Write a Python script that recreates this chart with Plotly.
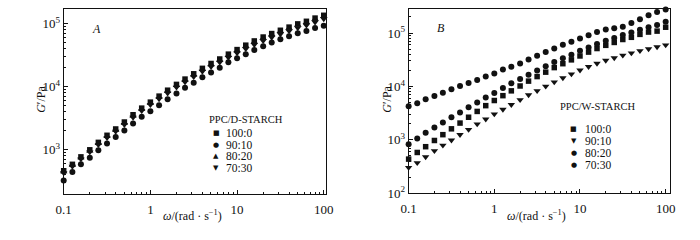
import plotly.graph_objects as go

# frequency grid (rad/s)
omega = [0.1, 0.126, 0.158, 0.2, 0.251, 0.316, 0.398, 0.501, 0.631, 0.794,
         1, 1.26, 1.58, 2, 2.51, 3.16, 3.98, 5.01, 6.31, 7.94,
         10, 12.6, 15.8, 20, 25.1, 31.6, 39.8, 50.1, 63.1, 79.4, 100]

# Panel A: PPC/D-STARCH  (G' in Pa)
a_100_0 = [466, 589, 773, 1000, 1312, 1698, 2138, 2754, 3589, 4571, 5689, 7079, 8790, 10860,
           13180, 15990, 19500, 23280, 27420, 32730, 38640, 45390, 52970, 61090, 69340, 78160,
           87700, 98620, 108400, 121900, 134900]
a_90_10 = [327, 447, 590, 747, 980, 1260, 1590, 2020, 2620, 3350, 4090, 5060, 6310, 7800, 9640,
           11500, 14060, 16770, 20000, 24400, 28100, 32700, 38000, 43800, 50100, 56300, 63000,
           70300, 76200, 84700, 92000]
a_80_20 = [450, 570, 750, 960, 1260, 1630, 2050, 2650, 3450, 4400, 5480, 6800, 8450, 10450,
           12700, 15400, 18800, 22400, 26400, 31500, 37200, 43700, 51000, 58800, 66800, 75300,
           84500, 95000, 104500, 117500, 130000]
a_70_30 = [430, 545, 715, 920, 1200, 1550, 1950, 2500, 3250, 4150, 5150, 6400, 7900, 9750,
           11800, 14300, 17400, 20700, 24300, 28900, 34000, 39800, 46300, 53200, 60300, 67800,
           76000, 85000, 93500, 105000, 118000]

# Panel B: PPC/W-STARCH  (G' in Pa)
b_100_0 = [437, 582, 746, 975, 1253, 1611, 2065, 2655, 3412, 4375, 5458, 6730, 8279, 10210,
           12590, 15310, 18530, 22540, 26670, 31480, 37240, 43950, 51290, 58880, 66680, 75680,
           83180, 94410, 104200, 108600, 128500]
b_90_10 = [303, 373, 480, 624, 793, 989, 1253, 1563, 1982, 2443, 3048, 3707, 4560, 5623, 6934,
           8279, 10090, 12080, 14420, 17060, 20140, 23500, 26980, 30620, 34200, 38280, 42170,
           46450, 50470, 54830, 59570]
b_80_20 = [826, 1059, 1361, 1698, 2118, 2655, 3266, 4074, 5023, 6194, 7534, 9397, 11430, 13830,
           16630, 19910, 23820, 28640, 33810, 39260, 46450, 53460, 62090, 71610, 81100, 92050,
           102500, 114800, 128500, 141300, 162200]
b_70_30 = [4260, 4875, 5770, 6640, 7620, 8890, 10210, 11560, 13270, 15310, 17580, 20750, 23500,
           26980, 31920, 37670, 43950, 51290, 60670, 68710, 78890, 90570, 104200, 116400, 123000,
           131800, 153800, 181600, 214800, 246600, 275400]

labels = ["100:0", "90:10", "80:20", "70:30"]
x_ticks = [0.1, 1, 10, 100]
x_ticktext = ["0.1", "1", "10", "100"]
ya_ticks = [1e3, 1e4, 1e5]
ya_ticktext = ["10<sup>3</sup>", "10<sup>4</sup>", "10<sup>5</sup>"]
yb_ticks = [1e2, 1e3, 1e4, 1e5]
yb_ticktext = ["10<sup>2</sup>", "10<sup>3</sup>", "10<sup>4</sup>", "10<sup>5</sup>"]

FONT = "Liberation Serif"
BLACK = "#111111"

def minor_vals(lo, hi):
    vals = []
    for d in range(lo, hi + 1):
        for m in range(2, 10):
            vals.append(m * 10 ** d)
    return vals

fig = go.Figure()

series_a = [(a_100_0, "square", 5.5), (a_90_10, "circle", 6),
            (a_80_20, "triangle-up", 6.5), (a_70_30, "triangle-down", 6.5)]
series_b = [(b_100_0, "square", 5.5), (b_90_10, "triangle-down", 6.5),
            (b_80_20, "circle", 6), (b_70_30, "circle", 6)]

for (vals, sym, sz), lab in zip(series_a, labels):
    fig.add_trace(go.Scatter(x=omega, y=vals, mode="markers", name=lab, showlegend=False,
                             marker=dict(symbol=sym, size=sz, color=BLACK), cliponaxis=False,
                             xaxis="x", yaxis="y"))
for (vals, sym, sz), lab in zip(series_b, labels):
    fig.add_trace(go.Scatter(x=omega, y=vals, mode="markers", name=lab, showlegend=False,
                             marker=dict(symbol=sym, size=sz, color=BLACK), cliponaxis=False,
                             xaxis="x2", yaxis="y2"))

axis_common = dict(type="log", showgrid=False, zeroline=False, showline=True, linecolor=BLACK,
                   linewidth=1, mirror=True, ticks="inside", ticklen=4, tickcolor=BLACK,
                   tickfont=dict(family=FONT, size=13, color=BLACK))

fig.update_layout(
    width=700, height=240, margin=dict(l=0, r=0, t=0, b=0),
    paper_bgcolor="white", plot_bgcolor="white",
    font=dict(family=FONT, size=12, color=BLACK),
    xaxis=dict(axis_common, domain=[57 / 700, 325 / 700], range=[-1, 2.021], anchor="y",
               tickvals=x_ticks, ticktext=x_ticktext, ticklabelstandoff=3,
               minor=dict(tickvals=minor_vals(-1, 1), ticks="inside", ticklen=2, tickcolor=BLACK)),
    yaxis=dict(axis_common, domain=[1 - 200.7 / 240, 1 - 9.3 / 240], range=[2.30, 5.23], anchor="x",
               tickvals=ya_ticks, ticktext=ya_ticktext,
               minor=dict(tickvals=minor_vals(2, 5), ticks="inside", ticklen=2, tickcolor=BLACK)),
    xaxis2=dict(axis_common, domain=[410 / 700, 677 / 700], range=[-1, 2.045], anchor="y2",
                tickvals=x_ticks, ticktext=x_ticktext, ticklabelstandoff=3,
                minor=dict(tickvals=minor_vals(-1, 2), ticks="inside", ticklen=2, tickcolor=BLACK)),
    yaxis2=dict(axis_common, domain=[1 - 200 / 240, 1 - 9.3 / 240], range=[2.0, 5.45], anchor="x2",
                tickvals=yb_ticks, ticktext=yb_ticktext,
                minor=dict(tickvals=minor_vals(2, 5), ticks="inside", ticklen=2, tickcolor=BLACK)),
)

ann = []
def text(x, y, s, size=12, xanchor="center", angle=0, family=FONT):
    ann.append(dict(x=x / 700, y=1 - y / 240, xref="paper", yref="paper", text=s, showarrow=False,
                    xanchor=xanchor, yanchor="middle", textangle=angle,
                    font=dict(family=family, size=size, color=BLACK)))

# panel letters
text(91, 30, "<i>A</i>", 12)
text(443, 29, "<i>B</i>", 12)
# axis titles
text(33, 103, "<i>G</i>′/Pa", 12, angle=-90)
text(387, 103, "<i>G</i>′/Pa", 12, angle=-90)
text(189, 223, "<i>ω</i>/(rad · s<sup>−1</sup>)", 12)
text(541, 223, "<i>ω</i>/(rad · s<sup>−1</sup>)", 12)

# legends (drawn as text)
legend_a = ["■", "●", "▲", "▼"]
legend_b = ["■", "▼", "●", "●"]
text(204, 124, "PPC/D-STARCH", 10.5, xanchor="left")
text(563, 110, "PPC/W-STARCH", 10.5, xanchor="left")
for i, lab in enumerate(labels):
    ya = 137.5 + i * 12
    text(213, ya, legend_a[i], 7, family="DejaVu Sans")
    text(221, ya, lab, 11.5, xanchor="left")
    yb = 133 + i * 12.5
    text(579, yb, legend_b[i], 7, family="DejaVu Sans")
    text(588, yb, lab, 11.5, xanchor="left")

fig.update_layout(annotations=ann)
fig.write_html("out.html", config={"displayModeBar": False},
               post_script="document.body.style.margin='0';document.body.style.overflow='hidden';")
